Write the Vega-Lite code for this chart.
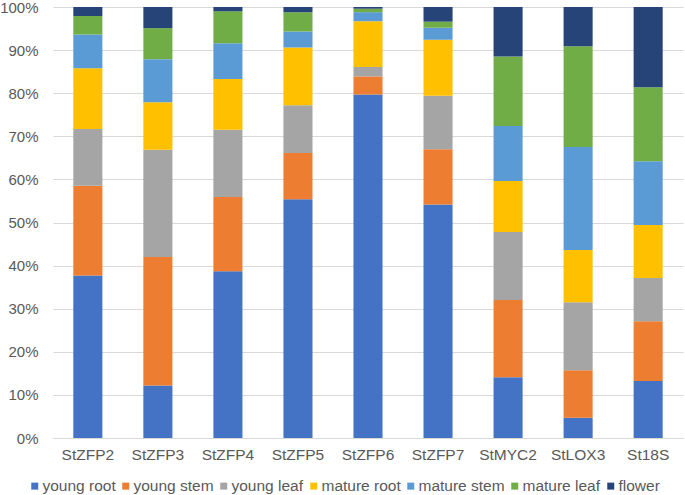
{
  "$schema": "https://vega.github.io/schema/vega-lite/v6.json",
  "autosize": "none",
  "width": 630,
  "height": 431,
  "padding": {"left": 53, "top": 7, "right": 2, "bottom": 57},
  "background": "white",
  "config": {
    "font": "Liberation Sans",
    "view": {"stroke": null},
    "axis": {"labelFont": "Liberation Sans", "labelFontSize": 15, "labelColor": "#595959"},
    "legend": {"labelFont": "Liberation Sans", "labelFontSize": 15.5, "labelColor": "#595959"}
  },
  "data": {
    "values": [
      {"gene": "StZFP2", "tissue": "young root", "value": 37.7},
      {"gene": "StZFP2", "tissue": "young stem", "value": 20.8},
      {"gene": "StZFP2", "tissue": "young leaf", "value": 13.2},
      {"gene": "StZFP2", "tissue": "mature root", "value": 14.1},
      {"gene": "StZFP2", "tissue": "mature stem", "value": 7.8},
      {"gene": "StZFP2", "tissue": "mature leaf", "value": 4.3},
      {"gene": "StZFP2", "tissue": "flower", "value": 2.1},
      {"gene": "StZFP3", "tissue": "young root", "value": 12.2},
      {"gene": "StZFP3", "tissue": "young stem", "value": 29.8},
      {"gene": "StZFP3", "tissue": "young leaf", "value": 24.9},
      {"gene": "StZFP3", "tissue": "mature root", "value": 11.0},
      {"gene": "StZFP3", "tissue": "mature stem", "value": 10.0},
      {"gene": "StZFP3", "tissue": "mature leaf", "value": 7.2},
      {"gene": "StZFP3", "tissue": "flower", "value": 4.9},
      {"gene": "StZFP4", "tissue": "young root", "value": 38.7},
      {"gene": "StZFP4", "tissue": "young stem", "value": 17.2},
      {"gene": "StZFP4", "tissue": "young leaf", "value": 15.6},
      {"gene": "StZFP4", "tissue": "mature root", "value": 11.8},
      {"gene": "StZFP4", "tissue": "mature stem", "value": 8.3},
      {"gene": "StZFP4", "tissue": "mature leaf", "value": 7.4},
      {"gene": "StZFP4", "tissue": "flower", "value": 1.0},
      {"gene": "StZFP5", "tissue": "young root", "value": 55.4},
      {"gene": "StZFP5", "tissue": "young stem", "value": 10.7},
      {"gene": "StZFP5", "tissue": "young leaf", "value": 11.1},
      {"gene": "StZFP5", "tissue": "mature root", "value": 13.4},
      {"gene": "StZFP5", "tissue": "mature stem", "value": 3.7},
      {"gene": "StZFP5", "tissue": "mature leaf", "value": 4.5},
      {"gene": "StZFP5", "tissue": "flower", "value": 1.2},
      {"gene": "StZFP6", "tissue": "young root", "value": 79.7},
      {"gene": "StZFP6", "tissue": "young stem", "value": 4.2},
      {"gene": "StZFP6", "tissue": "young leaf", "value": 2.2},
      {"gene": "StZFP6", "tissue": "mature root", "value": 10.6},
      {"gene": "StZFP6", "tissue": "mature stem", "value": 2.1},
      {"gene": "StZFP6", "tissue": "mature leaf", "value": 0.8},
      {"gene": "StZFP6", "tissue": "flower", "value": 0.4},
      {"gene": "StZFP7", "tissue": "young root", "value": 54.2},
      {"gene": "StZFP7", "tissue": "young stem", "value": 12.8},
      {"gene": "StZFP7", "tissue": "young leaf", "value": 12.4},
      {"gene": "StZFP7", "tissue": "mature root", "value": 13.0},
      {"gene": "StZFP7", "tissue": "mature stem", "value": 2.8},
      {"gene": "StZFP7", "tissue": "mature leaf", "value": 1.4},
      {"gene": "StZFP7", "tissue": "flower", "value": 3.4},
      {"gene": "StMYC2", "tissue": "young root", "value": 14.1},
      {"gene": "StMYC2", "tissue": "young stem", "value": 17.9},
      {"gene": "StMYC2", "tissue": "young leaf", "value": 15.8},
      {"gene": "StMYC2", "tissue": "mature root", "value": 11.8},
      {"gene": "StMYC2", "tissue": "mature stem", "value": 12.8},
      {"gene": "StMYC2", "tissue": "mature leaf", "value": 16.1},
      {"gene": "StMYC2", "tissue": "flower", "value": 11.5},
      {"gene": "StLOX3", "tissue": "young root", "value": 4.7},
      {"gene": "StLOX3", "tissue": "young stem", "value": 11.0},
      {"gene": "StLOX3", "tissue": "young leaf", "value": 15.8},
      {"gene": "StLOX3", "tissue": "mature root", "value": 12.1},
      {"gene": "StLOX3", "tissue": "mature stem", "value": 23.9},
      {"gene": "StLOX3", "tissue": "mature leaf", "value": 23.4},
      {"gene": "StLOX3", "tissue": "flower", "value": 9.1},
      {"gene": "St18S", "tissue": "young root", "value": 13.2},
      {"gene": "St18S", "tissue": "young stem", "value": 13.9},
      {"gene": "St18S", "tissue": "young leaf", "value": 10.0},
      {"gene": "St18S", "tissue": "mature root", "value": 12.3},
      {"gene": "St18S", "tissue": "mature stem", "value": 14.8},
      {"gene": "St18S", "tissue": "mature leaf", "value": 17.2},
      {"gene": "St18S", "tissue": "flower", "value": 18.6}
    ]
  },
  "transform": [
    {"calculate": "indexof(['young root','young stem','young leaf','mature root','mature stem','mature leaf','flower'], datum.tissue)", "as": "stackOrder"}
  ],
  "mark": {"type": "bar"},
  "encoding": {
    "x": {
      "field": "gene",
      "type": "nominal",
      "sort": null,
      "title": null,
      "scale": {"paddingInner": 0.585, "paddingOuter": 0.29},
      "axis": {"labelAngle": 0, "ticks": false, "labelPadding": 9, "labelFontSize": 15.5, "domainColor": "#d9d9d9", "domainWidth": 1, "grid": false}
    },
    "y": {
      "field": "value",
      "type": "quantitative",
      "stack": "normalize",
      "title": null,
      "scale": {"domain": [0, 1], "nice": false},
      "axis": {"values": [0, 0.1, 0.2, 0.3, 0.4, 0.5, 0.6, 0.7, 0.8, 0.9, 1], "format": ".0%", "ticks": false, "domain": false, "labelPadding": 15, "gridColor": "#d9d9d9", "gridWidth": 1}
    },
    "order": {"field": "stackOrder", "type": "quantitative", "sort": "ascending"},
    "color": {
      "field": "tissue",
      "type": "nominal",
      "scale": {
        "domain": ["young root", "young stem", "young leaf", "mature root", "mature stem", "mature leaf", "flower"],
        "range": ["#4472C4", "#ED7D31", "#A5A5A5", "#FFC000", "#5B9BD5", "#70AD47", "#264478"]
      },
      "legend": {
        "title": null,
        "orient": "none",
        "direction": "horizontal",
        "legendX": -26,
        "legendY": 471,
        "symbolType": "square",
        "symbolSize": 49,
        "symbolStrokeWidth": 0,
        "labelOffset": 0,
        "columnPadding": 2,
        "padding": 0
      }
    }
  }
}
